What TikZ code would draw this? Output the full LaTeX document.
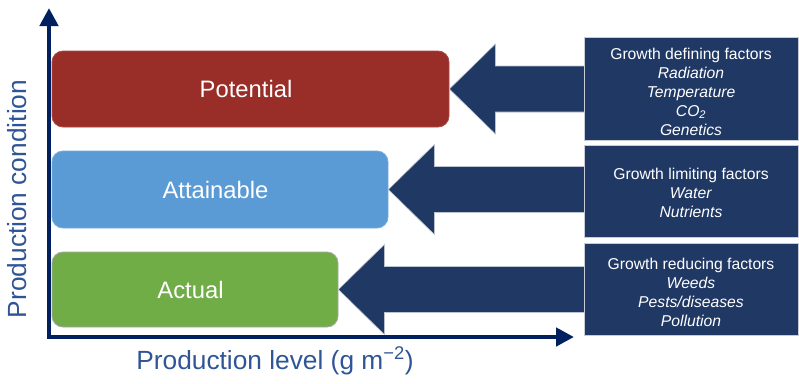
\documentclass[tikz,border=0pt]{standalone}
\usepackage{fontspec}
\setmainfont{Liberation Sans}
\usetikzlibrary{arrows.meta,calc}
\definecolor{axisnavy}{HTML}{002060}
\definecolor{factornavy}{HTML}{203864}
\definecolor{labelblue}{HTML}{2F5597}
\definecolor{potred}{HTML}{992D27}
\definecolor{attblue}{HTML}{5B9BD5}
\definecolor{actgreen}{HTML}{70AD47}
\begin{document}
\begin{tikzpicture}[x=1pt,y=-1pt,
  levelbox/.style={rounded corners=11pt,minimum width=#1,text=white,
    font=\fontsize{23.8}{28}\selectfont,inner sep=0pt,line width=0.8pt,
    execute at begin node=\kern-9pt},
  factorbox/.style={fill=factornavy,draw=white!75!factornavy,line width=0.6pt,
    minimum width=214pt,inner sep=0pt},
  factortext/.style={text=white,align=center,inner sep=0pt,
    font=\fontsize{15.7}{19}\selectfont},
  blockarrow/.style={fill=factornavy,draw=white!70!factornavy,line width=0.6pt,line join=miter},
  axisline/.style={draw=axisnavy,line width=4.5pt,line join=miter,
    {Triangle[width=18pt,length=18pt]}-{Triangle[width=18pt,length=18pt]}},
  axislabel/.style={text=labelblue,font=\fontsize{26.3}{30}\selectfont,inner sep=0pt}]
\useasboundingbox (0,0) rectangle (799,383);

% axes
\coordinate (ytop) at (49,8);
\coordinate (origin) at (49,337);
\coordinate (xend) at (574,337);
\draw[axisline] (ytop) -- (origin) -- (xend);
\node[axislabel,rotate=90] (ylab) at (17,199) {Production condition};
\node[axislabel] (xlab) at (275,361) {Production level (g m\textsuperscript{\raisebox{0.1ex}{−2}})};

% production levels
\node[levelbox=397pt,minimum height=76pt,fill=potred,draw=potred!85!white] (pot) at (250.5,89) {Potential};
\node[levelbox=336pt,minimum height=77pt,fill=attblue,draw=attblue!85!white] (att) at (220,189.5) {Attainable};
\node[levelbox=286pt,minimum height=75pt,fill=actgreen,draw=black!35] (act) at (195,289.5) {Actual};

% factor box frames
\coordinate (f1pos) at (691,88.5);
\coordinate (f2pos) at (691,191);
\coordinate (f3pos) at (691,289);
\path (f1pos) node[factorbox,minimum height=103pt,draw=none,fill=none] (f1) {};
\path (f2pos) node[factorbox,minimum height=92pt,draw=none,fill=none] (f2) {};
\path (f3pos) node[factorbox,minimum height=92pt,draw=none,fill=none] (f3) {};

% block arrows from the factor boxes to the levels
\draw[blockarrow] (pot.east) -- ++(46,-45) -- ++(0,22) -- ($(pot.east -| f1.west)+(6,-23)$)
  -- ($(pot.east -| f1.west)+(6,23)$) -- ($(pot.east)+(46,23)$) -- ++(0,22) -- cycle;
\draw[blockarrow] (att.east) -- ++(46,-45) -- ++(0,22) -- ($(att.east -| f2.west)+(6,-23)$)
  -- ($(att.east -| f2.west)+(6,23)$) -- ($(att.east)+(46,23)$) -- ++(0,22) -- cycle;
\draw[blockarrow] (act.east) -- ++(46,-45) -- ++(0,22) -- ($(act.east -| f3.west)+(6,-23)$)
  -- ($(act.east -| f3.west)+(6,23)$) -- ($(act.east)+(46,23)$) -- ++(0,22) -- cycle;

% factor boxes (drawn over the arrow shafts)
\node[factorbox,minimum height=103pt] (f1b) at (f1pos) {};
\node[factorbox,minimum height=92pt] (f2b) at (f2pos) {};
\node[factorbox,minimum height=92pt] (f3b) at (f3pos) {};
\node[factortext] (t1) at ($(f1b.center)+(0,3)$) {Growth defining factors\\ \textit{Radiation}\\ \textit{Temperature}\\ \textit{CO\textsubscript{2}}\\ \textit{Genetics}};
\node[factortext] (t2) at ($(f2b.center)+(0,1.5)$) {Growth limiting factors\\ \textit{Water}\\ \textit{Nutrients}};
\node[factortext] (t3) at ($(f3b.center)+(0,3)$) {Growth reducing factors\\ \textit{Weeds}\\ \textit{Pests/diseases}\\ \textit{Pollution}};
\end{tikzpicture}
\end{document}
